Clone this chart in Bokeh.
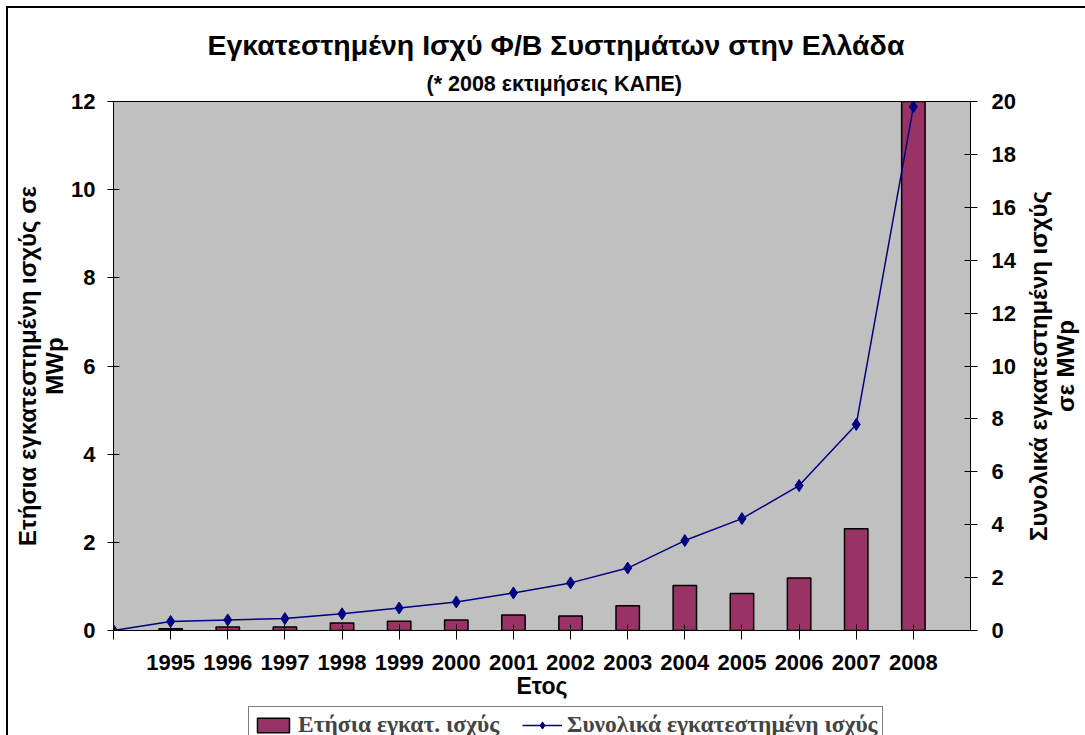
from bokeh.plotting import figure
from bokeh.layouts import row, column
from bokeh.models import Range1d, LinearAxis, FixedTicker, Legend, LegendItem, Title
from bokeh.embed import file_html
from bokeh.resources import INLINE

# ---- data ----
years = [1995, 1996, 1997, 1998, 1999, 2000, 2001, 2002, 2003, 2004, 2005, 2006, 2007, 2008]
annual = [0.04, 0.08, 0.08, 0.17, 0.21, 0.24, 0.35, 0.33, 0.56, 1.02, 0.84, 1.19, 2.31, 12.0]
cum_years = [1994, 1995, 1996, 1997, 1998, 1999, 2000, 2001, 2002, 2003, 2004, 2005, 2006, 2007, 2008]
cumulative = [0.0, 0.34, 0.40, 0.45, 0.63, 0.85, 1.08, 1.42, 1.80, 2.36, 3.40, 4.23, 5.48, 7.79, 19.8]
left_ticks = [0, 2, 4, 6, 8, 10, 12]
right_ticks = [0, 2, 4, 6, 8, 10, 12, 14, 16, 18, 20]
x_ticks = cum_years

title_text = "Εγκατεστημένη Ισχύ Φ/Β Συστημάτων στην Ελλάδα"
subtitle_text = "(* 2008 εκτιμήσεις ΚΑΠΕ)"
x_label = "Ετος"
left_label = "Ετήσια εγκατεστημένη ισχύς σε\nMWp"
right_label = "Συνολικά εγκατεστημένη ισχύς\nσε MWp"
bar_name = "Ετήσια εγκατ. ισχύς"
line_name = "Συνολικά εγκατεστημένη ισχύς"

SANS = "Liberation Sans"
SERIF = "Liberation Serif"
BAR_FILL = "#993366"
LINE_COL = "#000080"

p = figure(frame_width=857, frame_height=529,
           min_border_left=105, min_border_right=50,
           min_border_top=93, min_border_bottom=76,
           x_range=Range1d(1994, 2009), y_range=Range1d(0, 12),
           output_backend="svg", toolbar_location=None,
           background_fill_color="#C0C0C0", border_fill_color="white")
p.extra_y_ranges = {"cum": Range1d(0, 20)}
p.grid.visible = False
p.outline_line_color = "#000000"
p.outline_line_width = 1

bars = p.vbar(x=years, top=annual, width=0.41, fill_color=BAR_FILL,
              line_color="#000000", line_width=1.5)
line = p.line(cum_years, cumulative, y_range_name="cum",
              line_color=LINE_COL, line_width=1.5)
pts = p.scatter(cum_years, cumulative, y_range_name="cum", marker="diamond",
                size=12, fill_color=LINE_COL, line_color=LINE_COL)


def style_axis(ax, tin, tout, standoff):
    ax.axis_line_color = "#000000"
    ax.axis_line_width = 1
    ax.major_tick_line_color = "#000000"
    ax.major_tick_in = tin
    ax.major_tick_out = tout
    ax.minor_tick_line_color = None
    ax.major_label_text_font = SANS
    ax.major_label_text_font_style = "bold"
    ax.major_label_text_font_size = "22px"
    ax.major_label_text_color = "#000000"
    ax.major_label_standoff = standoff


def style_label(ax, label, size, standoff, line_height):
    ax.axis_label = label
    ax.axis_label_text_font = SANS
    ax.axis_label_text_font_style = "bold"
    ax.axis_label_text_font_size = size
    ax.axis_label_text_color = "#000000"
    ax.axis_label_standoff = standoff
    ax.axis_label_text_line_height = line_height


xa = p.xaxis[0]
xa.ticker = FixedTicker(ticks=x_ticks)
xa.major_label_overrides = {1994: ""}
style_axis(xa, 6, 9, 15)
style_label(xa, x_label, "23px", 0, 1.0)

ya = p.yaxis[0]
ya.ticker = FixedTicker(ticks=left_ticks)
style_axis(ya, 6, 6, 12)
style_label(ya, left_label, "24px", 0, 1.0)

ra = LinearAxis(y_range_name="cum", ticker=FixedTicker(ticks=right_ticks))
style_axis(ra, 6, 7, 14)
p.add_layout(ra, "right")

# titles: subtitle first (closest to the frame), then main title
p.add_layout(Title(text=subtitle_text, align="left", offset=313,
                   text_font=SANS, text_font_style="bold", text_font_size="21.5px",
                   text_color="#000000", standoff=12), "above")
p.add_layout(Title(text=title_text, align="left", offset=94,
                   text_font=SANS, text_font_style="bold", text_font_size="28.5px",
                   text_color="#000000", standoff=6), "above")

# narrow companion figure that carries the right-hand axis title (reads bottom-to-top)
side = figure(frame_width=1, frame_height=529,
              min_border_left=58, min_border_right=14,
              min_border_top=93, min_border_bottom=0,
              x_range=Range1d(0, 1), y_range=Range1d(0, 20),
              x_axis_location=None, y_axis_location="left",
              output_backend="svg", toolbar_location=None,
              background_fill_color=None, border_fill_color="white")
side.outline_line_color = None
side.grid.visible = False
sa = side.yaxis[0]
sa.ticker = FixedTicker(ticks=[])
sa.axis_line_color = None
sa.major_tick_line_color = None
sa.minor_tick_line_color = None
sa.major_label_text_font_size = "0px"
style_label(sa, right_label, "24px", 0, 1.0)

# strip below the chart that carries the legend
# (its sample glyphs sit in the part of the strip that lies below the visible page)
legfig = figure(frame_width=700, frame_height=60,
                min_border_left=240, min_border_right=145,
                min_border_top=0, min_border_bottom=0,
                x_range=Range1d(0, 1), y_range=Range1d(0, 1),
                x_axis_location=None, y_axis_location=None,
                output_backend="svg", toolbar_location=None,
                background_fill_color="white", border_fill_color="white")
legfig.outline_line_color = None
legfig.grid.visible = False
lg_bar = legfig.vbar(x=[0.95], bottom=[0.05], top=[0.15], width=0.01,
                     fill_color=BAR_FILL, line_color="#000000", line_width=1.5)
lg_line = legfig.line(x=[0.93, 0.97], y=[0.1, 0.1], line_color=LINE_COL, line_width=1.5)
lg_pts = legfig.scatter(x=[0.95], y=[0.1], marker="diamond", size=11,
                        fill_color=LINE_COL, line_color=LINE_COL)

legend = Legend(
    items=[LegendItem(label=bar_name, renderers=[lg_bar]),
           LegendItem(label=line_name, renderers=[lg_line, lg_pts])],
    orientation="horizontal", location="top_left",
    label_text_font=SERIF, label_text_font_style="bold", label_text_font_size="23.5px",
    glyph_width=40, glyph_height=18, label_standoff=5, spacing=23,
    padding=4, margin=0, border_line_color="#000000", border_line_width=1,
    background_fill_color="white", background_fill_alpha=1.0)
legfig.add_layout(legend)

lay = column(row(p, side), legfig)
lay.margin = (8, 0, 0, 8)
lay.styles = {"outline": "2px solid black"}

open("out.html", "w").write(file_html(lay, INLINE))
